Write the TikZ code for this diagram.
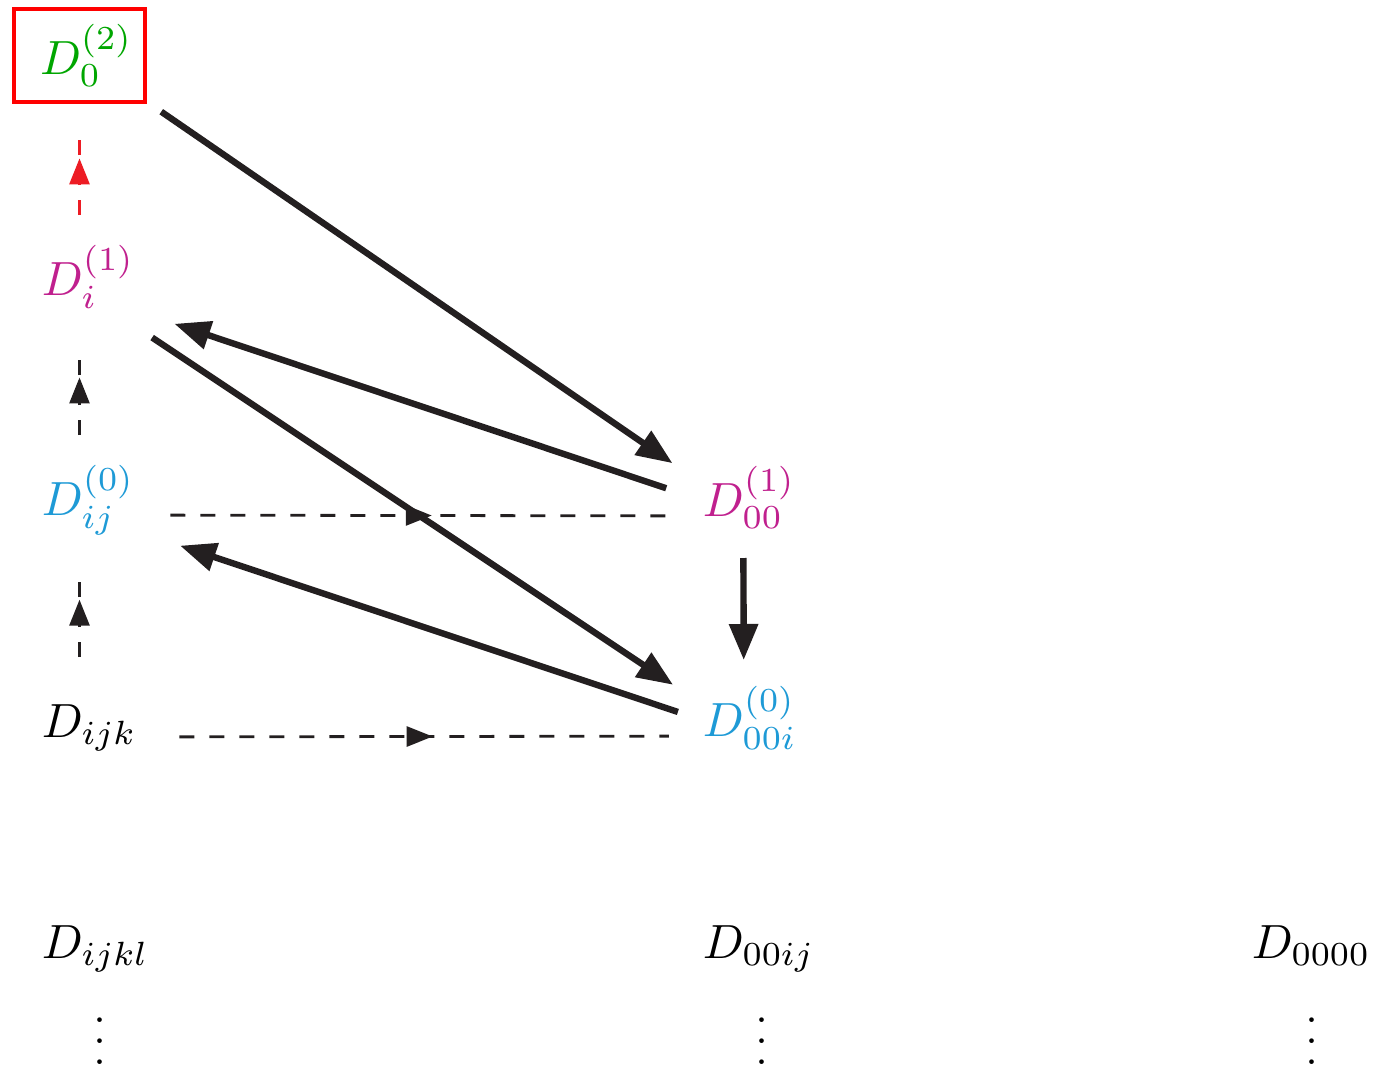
\documentclass[tikz,border=0pt]{standalone}
\usepackage{xcolor}
\usepackage{amsmath}
\usepackage{tikz}
\usetikzlibrary{arrows.meta,decorations.markings,calc}
\definecolor{lineink}{HTML}{231F20}
\definecolor{boxred}{HTML}{FF0000}
\definecolor{dashred}{HTML}{ED1C24}
\definecolor{topgreen}{HTML}{00A600}
\definecolor{onepink}{HTML}{C0208E}
\definecolor{zeroblue}{HTML}{1E9AD6}
\newcommand{\colvdots}{\vbox{\baselineskip5.25pt\lineskiplimit0pt\hbox{.}\hbox{.}\hbox{.}}}

\begin{document}
\begin{tikzpicture}[
  x=0.25pt, y=-0.25pt,
  font=\normalsize,
  term/.style={inner sep=0pt, anchor=base west, scale=1.2},
  topbox/.style={draw=boxred, line width=1pt, inner sep=0pt, scale=1.2,
    minimum width=27.3pt, minimum height=19.4pt, text=topgreen},
  dotcol/.style={inner sep=0pt, anchor=south, font=\large},
  leadarrow/.style={-{Triangle[length=9pt,width=7pt]}, line width=1.6pt, color=lineink},
  blackdash/.style={line width=0.7pt, dash pattern=on 3.75pt off 3.75pt, color=lineink},
  reddash/.style={line width=0.7pt, dash pattern=on 3.75pt off 3.75pt, color=dashred},
  midarrow/.style={postaction={decorate}, decoration={markings,
    mark=at position #1 with {\arrow[xshift=3.25pt]{Triangle[length=6.5pt,width=5pt]}}}},
  midarrow/.default=0.5
]
  \useasboundingbox (0,0) rectangle (1392,1071);

  % left column
  \node[topbox] (d02) at (79.5,55.5) {\hspace*{2.9pt}$D_0^{(2)}$};
  \node[term, text=onepink] (di1) at (41,295) {$D_i^{(1)}$};
  \node[term, text=zeroblue] (dij0) at (41,515) {$D_{ij}^{(0)}$};
  \node[term] (dijk) at (41,737) {$D_{ijk}$};

  % right column
  \node[term, text=onepink] (d001) at (702,516) {$D_{00}^{(1)}$};
  \node[term, text=zeroblue] (d00i0) at (702,736) {$D_{00i}^{(0)}$};

  % bottom row
  \node[term] (dijkl) at (41,958) {$D_{ijkl}$};
  \node[term] (d00ij) at (702,958) {$D_{00ij}$};
  \node[term] (d0000) at (1251,958) {$D_{0000}$};
  \node[dotcol] (vl) at (100,1065) {\colvdots};
  \node[dotcol] (vm) at (762,1065) {\colvdots};
  \node[dotcol] (vr) at (1312,1065) {\colvdots};

  % solid arrows
  \draw[leadarrow, shorten <=24.8pt, shorten >=23.3pt] (d02.center) -- (d001.base);
  \draw[leadarrow, shorten <=21.9pt, shorten >=22.7pt] (d001.base) -- (di1.base);
  \draw[leadarrow, shorten <=19.2pt, shorten >=23.1pt] (di1.base) -- (d00i0.base);
  \draw[leadarrow, shorten <=19pt, shorten >=24.2pt] (d00i0.base) -- (dij0.base);
  \draw[leadarrow, shorten <=10.5pt, shorten >=19pt]
    ([xshift=-1.5pt]d001.base) -- ([xshift=-1.5pt]d00i0.base);

  % dashed arrows
  \draw[reddash, midarrow=0.516, shorten <=20pt, shorten >=18.1pt]
    (d02 |- di1.base) -- (d02.center);
  \draw[blackdash, midarrow=0.566, shorten <=20pt, shorten >=13pt]
    (d02 |- dij0.base) -- (d02 |- di1.base);
  \draw[blackdash, midarrow=0.56, shorten <=20pt, shorten >=13.75pt]
    (d02 |- dijk.base) -- (d02 |- dij0.base);
  \draw[blackdash, midarrow, shorten <=20.5pt, shorten >=20pt] (dij0.base) -- (d001.base);
  \draw[blackdash, midarrow, shorten <=22.5pt, shorten >=20.25pt] (dijk.base) -- (d00i0.base);
\end{tikzpicture}
\end{document}
